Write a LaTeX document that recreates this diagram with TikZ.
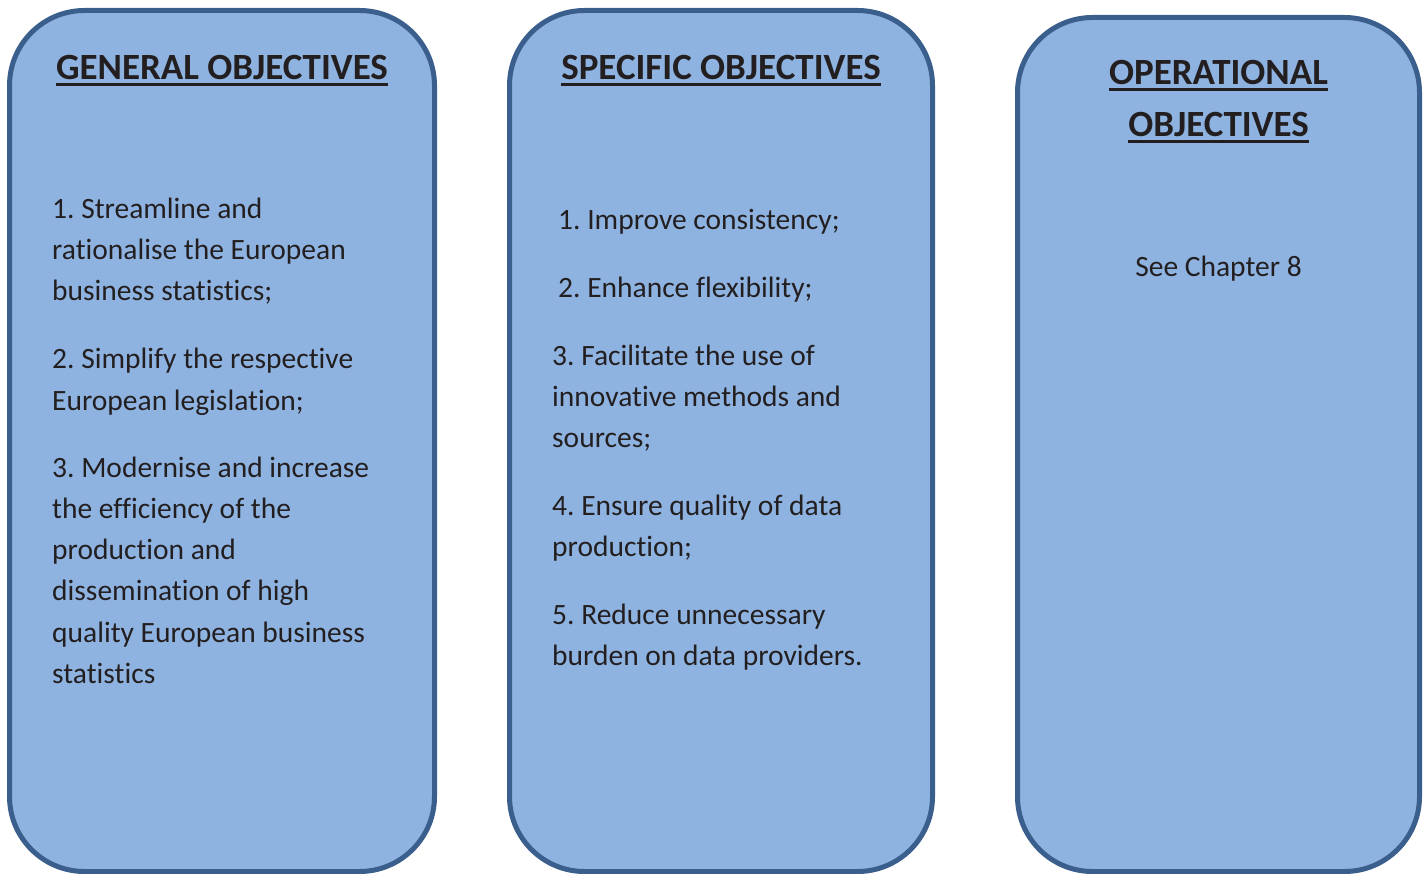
\documentclass[tikz,border=0pt]{standalone}
\usepackage{fontspec}
\setmainfont{Carlito}[Ligatures=CommonOff]
\frenchspacing
\definecolor{panelfill}{HTML}{8EB3E0}
\definecolor{paneledge}{HTML}{3B5F8C}
\definecolor{inktext}{HTML}{231F20}
\begin{document}
\begin{tikzpicture}[x=1pt,y=-1pt,
  panel/.style={draw=paneledge, fill=panelfill, line width=5pt, rounded corners=75pt, inner sep=0pt},
  ttl/.style={inner sep=0pt, anchor=base, text=inktext, font=\fontsize{37}{52}\selectfont\bfseries},
  body/.style={inner sep=0pt, anchor=base west, text=inktext, font=\fontsize{29.5}{41}\selectfont},
  uline/.style={line width=2.6pt, inktext}]
\useasboundingbox (0,0) rectangle (1426,874);
\node[panel, minimum width=425pt, minimum height=861pt] (b1) at (222,441) {};
\node[panel, minimum width=423pt, minimum height=861pt] (b2) at (721,441) {};
\node[panel, minimum width=402pt, minimum height=854pt] (b3) at (1218.5,444.5) {};
% titles
\node[ttl] (t1) at (222,80) {GENERAL OBJECTIVES};
\draw[uline] ([yshift=-4.5pt]t1.base west) -- ([yshift=-4.5pt]t1.base east);
\node[ttl] (t2) at (721,80) {SPECIFIC OBJECTIVES};
\draw[uline] ([yshift=-4.5pt]t2.base west) -- ([yshift=-4.5pt]t2.base east);
\node[ttl] (t3a) at (1218.5,85) {OPERATIONAL};
\draw[uline] ([yshift=-4.5pt]t3a.base west) -- ([yshift=-4.5pt]t3a.base east);
\node[ttl] (t3b) at (1218.5,137) {OBJECTIVES};
\draw[uline] ([yshift=-4.5pt]t3b.base west) -- ([yshift=-4.5pt]t3b.base east);
% general
\node[body] (g1a) at (52,219) {1. Streamline and};
\node[body] (g1b) at (52,260) {rationalise the European};
\node[body] (g1c) at (52,301) {business statistics;};
\node[body] (g2a) at (52,368) {2. Simplify the respective};
\node[body] (g2b) at (52,410) {European legislation;};
\node[body] (g3a) at (52,477) {3. Modernise and increase};
\node[body] (g3b) at (52,518) {the efficiency of the};
\node[body] (g3c) at (52,559) {production and};
\node[body] (g3d) at (52,600) {dissemination of high};
\node[body] (g3e) at (52,642) {quality European business};
\node[body] (g3f) at (52,683) {statistics};
% specific
\node[body] (s1) at (558,230) {1. Improve consistency;};
\node[body] (s2) at (558,298) {2. Enhance flexibility;};
\node[body] (s3a) at (552,365) {3. Facilitate the use of};
\node[body] (s3b) at (552,406) {innovative methods and};
\node[body] (s3c) at (552,447) {sources;};
\node[body] (s4a) at (552,515) {4. Ensure quality of data};
\node[body] (s4b) at (552,556) {production;};
\node[body] (s5a) at (552,624) {5. Reduce unnecessary};
\node[body] (s5b) at (552,665) {burden on data providers.};
% operational
\node[body, anchor=base] (o1) at (1218.5,277) {See Chapter 8};
\end{tikzpicture}
\end{document}
